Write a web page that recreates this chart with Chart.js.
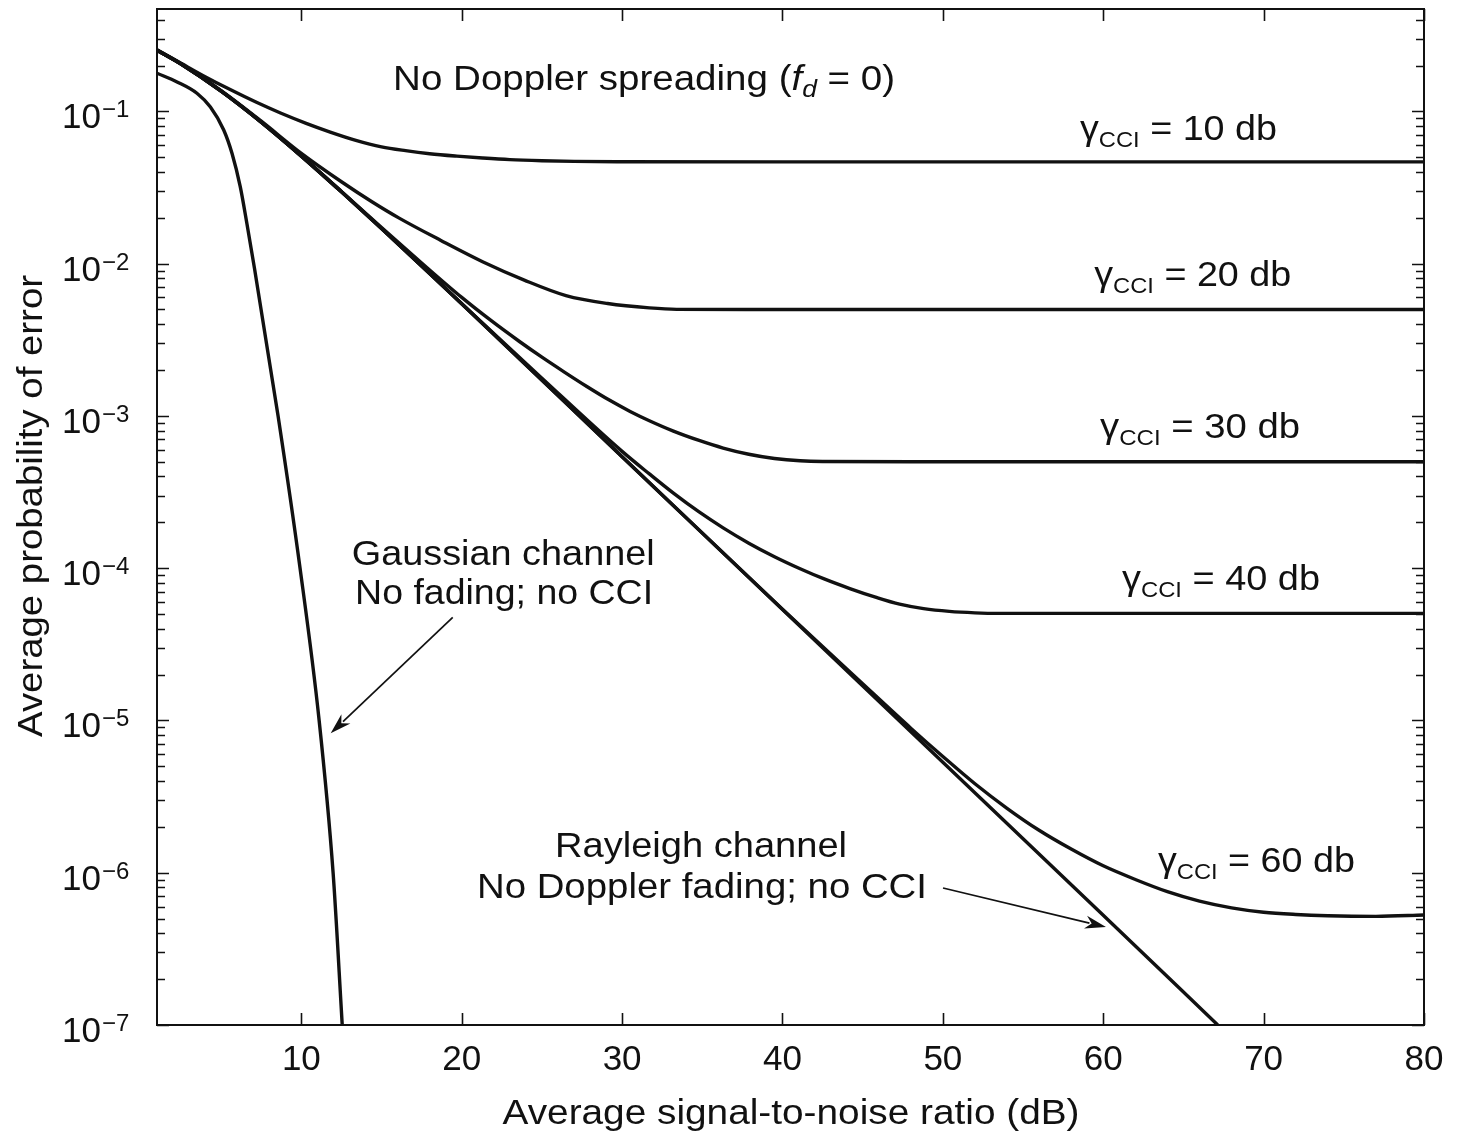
<!DOCTYPE html>
<html>
<head>
<meta charset="utf-8">
<title>Average probability of error vs. average SNR</title>
<script src="https://cdn.jsdelivr.net/npm/chart.js@4.4.1/dist/chart.umd.min.js"></script>
<style>
  html, body { margin: 0; padding: 0; background: #fff; }
  #wrap { width: 1466px; height: 1139px; }
</style>
</head>
<body>
<div id="wrap"><canvas id="chart" width="1466" height="1139"></canvas></div>
<script>
// ---- axis ticks ----
const xTickValues = [10, 20, 30, 40, 50, 60, 70, 80];
const yDecadeExponents = [-1, -2, -3, -4, -5, -6, -7];
const yMinorMultipliers = [1, 2, 3, 4, 5, 6, 7, 8, 9];

// ---- Gaussian channel, no fading, no CCI ----
const gaussSnr = [1, 2.25, 3.49, 4.33, 5.16, 5.68, 6.19, 6.61, 7.08, 8.55, 9.92, 11.11, 11.98, 12.55];
const gaussPe  = [0.178, 0.156, 0.1314, 0.1066, 0.0754, 0.0528, 0.032, 0.0182, 0.0093, 1.0e-3, 1.0e-4, 1.0e-5, 1.0e-6, 1.0e-7];

// ---- Rayleigh channel, no Doppler fading, no CCI ----
const raySnr = [1, 2.5, 5, 7.5, 10, 12.5, 15, 17.5, 20, 30, 40, 50, 60, 67.14];
const rayPe  = [0.252, 0.2045, 0.1357, 0.0849, 0.0508, 0.0296, 0.01699, 0.00965, 0.005445, 5.40e-4, 5.35e-5, 5.31e-6, 5.26e-7, 1.0e-7];

// ---- Rayleigh channel with co-channel interference (gamma_CCI) ----
const cci10Snr = [1, 2.5, 4, 5.5, 7.2, 8.7, 10.3, 11.8, 13.4, 15, 16.5, 18, 19.7, 21.3, 23, 25, 27, 30, 40, 80];
const cci10Pe  = [0.254, 0.207, 0.169, 0.140, 0.1146, 0.0975, 0.0834, 0.0731, 0.0645, 0.0585, 0.0552, 0.0527, 0.0508, 0.0494, 0.0482, 0.0474, 0.0469, 0.0467, 0.0466, 0.0466];

const cci20Snr = [1, 2.5, 5, 7.5, 10, 12.5, 14.4, 16.1, 18.7, 21.3, 23.9, 26.5, 29.1, 31.7, 33.4, 40, 80];
const cci20Pe  = [0.253, 0.2055, 0.1368, 0.0862, 0.053, 0.0345, 0.0255, 0.0199, 0.0142, 0.0103, 0.0078, 0.00617, 0.00547, 0.00512, 0.00501, 0.005, 0.005];

const cci30Snr = [1, 2.5, 5, 7.5, 10, 12.5, 15, 17.5, 20, 21.8, 23.6, 25, 26.4, 27.8, 29.2, 30.5, 31.7, 33.2, 34.8, 36.3, 37.9, 39.5, 41.1, 42.5, 50, 80];
const cci30Pe  = [0.252, 0.2045, 0.1357, 0.0849, 0.0509, 0.0298, 0.01725, 0.0101, 0.0060, 0.00425, 0.00308, 0.00243, 0.00194, 0.00156, 0.00127, 0.00107, 9.3e-4, 7.95e-4, 6.9e-4, 6.15e-4, 5.6e-4, 5.25e-4, 5.07e-4, 5.02e-4, 5.0e-4, 5.0e-4];

const cci40Snr = [1, 2.5, 5, 7.5, 10, 12.5, 15, 17.5, 20, 25, 30, 31.7, 33.2, 34.8, 36.3, 37.9, 39.5, 41.1, 42.6, 44.2, 45.8, 47.3, 48.8, 50.4, 52, 53.5, 60, 80];
const cci40Pe  = [0.252, 0.2045, 0.1357, 0.0849, 0.0508, 0.0296, 0.01699, 0.00966, 0.00546, 1.77e-3, 5.85e-4, 4.16e-4, 3.11e-4, 2.34e-4, 1.84e-4, 1.46e-4, 1.19e-4, 9.92e-5, 8.5e-5, 7.35e-5, 6.45e-5, 5.8e-5, 5.42e-5, 5.2e-5, 5.09e-5, 5.05e-5, 5.05e-5, 5.05e-5];

const cci60Snr = [1, 2.5, 5, 7.5, 10, 12.5, 15, 17.5, 20, 30, 40, 45, 48, 50, 52, 54, 56, 58, 60, 62, 64, 66, 68, 70, 72, 74, 77, 80];
const cci60Pe  = [0.252, 0.2045, 0.1357, 0.0849, 0.0508, 0.0296, 0.01699, 0.00965, 0.005445, 5.40e-4, 5.37e-5, 1.74e-5, 8.9e-6, 5.8e-6, 3.84e-6, 2.65e-6, 1.90e-6, 1.43e-6, 1.11e-6, 9.03e-7, 7.51e-7, 6.51e-7, 5.88e-7, 5.5e-7, 5.32e-7, 5.22e-7, 5.17e-7, 5.28e-7];

const FONT = '"Liberation Sans", Arial, Helvetica, sans-serif';
const INK = '#111';

function pairs(xs, ys) { return xs.map((x, i) => ({ x: x, y: ys[i] })); }
function curve(label, xs, ys) {
  return {
    label: label,
    data: pairs(xs, ys),
    borderColor: INK,
    borderWidth: 3.4,
    pointRadius: 0,
    fill: false,
    cubicInterpolationMode: 'monotone'
  };
}

// text runs: plain / italic / raised / lowered pieces laid out left to right,
// stretched horizontally to a set width
function fontStr(size, italic) { return (italic ? 'italic ' : '') + size + 'px ' + FONT; }
function drawRuns(ctx, runs, x, y, width) {
  let natural = 0;
  runs.forEach(r => { ctx.font = fontStr(r.s, r.it); r.w = ctx.measureText(r.t).width; natural += r.w; });
  const k = width ? width / natural : 1;
  ctx.save();
  ctx.translate(x, y);
  ctx.scale(k, 1);
  ctx.textAlign = 'left';
  ctx.textBaseline = 'alphabetic';
  let cx = 0;
  runs.forEach(r => { ctx.font = fontStr(r.s, r.it); ctx.fillText(r.t, cx, r.dy || 0); cx += r.w; });
  ctx.restore();
}

function gammaLabel(level) {
  return [{ t: '\u03B3', s: 35 }, { t: 'CCI', s: 22, dy: 7 }, { t: ' = ' + level + ' db', s: 35 }];
}

// annotation anchors in data units (dB, probability): left edge / baseline
const notes = [
  { x: 15.72, y: 0.138, w: 502, runs: [{ t: 'No Doppler spreading (', s: 35 }, { t: 'f', s: 35, it: true }, { t: 'd', s: 24, it: true, dy: 7 }, { t: ' = 0)', s: 35 }] },
  { x: 58.55, y: 0.0648, w: 197, runs: gammaLabel('10') },
  { x: 59.44, y: 0.00713, w: 197, runs: gammaLabel('20') },
  { x: 59.8, y: 7.16e-4, w: 200, runs: gammaLabel('30') },
  { x: 61.17, y: 7.19e-5, w: 198, runs: gammaLabel('40') },
  { x: 63.41, y: 1.01e-6, w: 197, runs: gammaLabel('60') },
  { x: 13.14, y: 1.05e-4, w: 303, runs: [{ t: 'Gaussian channel', s: 35 }] },
  { x: 13.35, y: 5.8e-5, w: 298, runs: [{ t: 'No fading; no CCI', s: 35 }] },
  { x: 25.82, y: 1.27e-6, w: 292, runs: [{ t: 'Rayleigh channel', s: 35 }] },
  { x: 20.95, y: 6.83e-7, w: 450, runs: [{ t: 'No Doppler fading; no CCI', s: 35 }] }
];
const arrows = [
  { from: [19.44, 4.76e-5], to: [11.83, 8.23e-6] },
  { from: [50.01, 7.94e-7], to: [60.17, 4.4e-7] }
];

const decor = {
  id: 'decor',
  beforeDraw(chart) {
    const ctx = chart.ctx;
    ctx.save();
    ctx.fillStyle = '#fff';
    ctx.fillRect(0, 0, chart.width, chart.height);
    ctx.restore();
  },
  afterDraw(chart) {
    const ctx = chart.ctx;
    const xs = chart.scales.x, ys = chart.scales.y;
    const a = chart.chartArea;
    ctx.save();
    ctx.strokeStyle = INK;
    ctx.fillStyle = INK;

    // frame
    ctx.lineWidth = 2;
    ctx.strokeRect(a.left, a.top, a.right - a.left, a.bottom - a.top);

    // x ticks (bottom and top, pointing inward)
    ctx.lineWidth = 1.6;
    ctx.beginPath();
    xTickValues.forEach(v => {
      const px = Math.round(xs.getPixelForValue(v)) + 0.5;
      ctx.moveTo(px, a.bottom); ctx.lineTo(px, a.bottom - 12);
      ctx.moveTo(px, a.top); ctx.lineTo(px, a.top + 12);
    });
    // y ticks (left and right, pointing inward)
    const yMax = ys.max, yMin = ys.min;
    for (let e = -7; e <= 0; e++) {
      yMinorMultipliers.forEach(m => {
        const v = m * Math.pow(10, e);
        if (v < yMin * 0.999 || v > yMax) return;
        const py = Math.round(ys.getPixelForValue(v)) + 0.5;
        const len = m === 1 ? 12 : 8;
        ctx.moveTo(a.left, py); ctx.lineTo(a.left + len, py);
        ctx.moveTo(a.right, py); ctx.lineTo(a.right - len, py);
      });
    }
    ctx.stroke();

    // y tick labels 10^e
    yDecadeExponents.forEach(e => {
      const py = ys.getPixelForValue(Math.pow(10, e));
      ctx.font = fontStr(35, false);
      ctx.textAlign = 'right';
      ctx.textBaseline = 'alphabetic';
      ctx.fillText('10', 101, py + 17);
      ctx.font = fontStr(24, false);
      ctx.textAlign = 'left';
      ctx.fillText('\u2212' + Math.abs(e), 102, py + 6);
    });

    // axis titles
    const midX = (a.left + a.right) / 2;
    ctx.save();
    ctx.translate(midX - 288, a.bottom + 99);
    drawRuns(ctx, [{ t: 'Average signal-to-noise ratio (dB)', s: 35 }], 0, 0, 577);
    ctx.restore();
    ctx.save();
    ctx.translate(42, (a.top + a.bottom) / 2 + 220);
    ctx.rotate(-Math.PI / 2);
    drawRuns(ctx, [{ t: 'Average probability of error', s: 35 }], 0, 0, 462);
    ctx.restore();

    // annotations
    notes.forEach(n => {
      drawRuns(ctx, n.runs, xs.getPixelForValue(n.x), ys.getPixelForValue(n.y), n.w);
    });

    // arrows
    arrows.forEach(ar => {
      const x0 = xs.getPixelForValue(ar.from[0]), y0 = ys.getPixelForValue(ar.from[1]);
      const x1 = xs.getPixelForValue(ar.to[0]), y1 = ys.getPixelForValue(ar.to[1]);
      const ang = Math.atan2(y1 - y0, x1 - x0);
      const head = 21, half = 6.5;
      const bx = x1 - head * Math.cos(ang), by = y1 - head * Math.sin(ang);
      ctx.lineWidth = 1.7;
      ctx.beginPath();
      ctx.moveTo(x0, y0); ctx.lineTo(bx + 4 * Math.cos(ang), by + 4 * Math.sin(ang));
      ctx.stroke();
      ctx.beginPath();
      ctx.moveTo(x1, y1);
      ctx.lineTo(bx + half * Math.sin(ang), by - half * Math.cos(ang));
      ctx.lineTo(bx + 0.3 * head * Math.cos(ang), by + 0.3 * head * Math.sin(ang));
      ctx.lineTo(bx - half * Math.sin(ang), by + half * Math.cos(ang));
      ctx.closePath();
      ctx.fill();
    });
    ctx.restore();
  }
};

new Chart(document.getElementById('chart'), {
  type: 'line',
  data: {
    datasets: [
      curve('Gaussian channel', gaussSnr, gaussPe),
      curve('Rayleigh channel', raySnr, rayPe),
      curve('\u03B3CCI = 10 db', cci10Snr, cci10Pe),
      curve('\u03B3CCI = 20 db', cci20Snr, cci20Pe),
      curve('\u03B3CCI = 30 db', cci30Snr, cci30Pe),
      curve('\u03B3CCI = 40 db', cci40Snr, cci40Pe),
      curve('\u03B3CCI = 60 db', cci60Snr, cci60Pe)
    ]
  },
  options: {
    responsive: false,
    animation: false,
    devicePixelRatio: 1,
    layout: { padding: { top: 9, right: 42, left: 0, bottom: 0 } },
    plugins: { legend: { display: false }, tooltip: { enabled: false } },
    scales: {
      x: {
        type: 'linear', min: 1, max: 80,
        afterBuildTicks: s => { s.ticks = xTickValues.map(v => ({ value: v })); },
        afterFit: s => { s.height = 114; },
        grid: { display: false, drawTicks: false },
        border: { display: false },
        ticks: {
          color: INK, padding: 14, maxRotation: 0, autoSkip: false,
          font: { family: FONT, size: 35 },
          callback: v => String(v)
        }
      },
      y: {
        type: 'logarithmic', min: 1e-7, max: 0.47,
        afterFit: s => { s.width = 157; },
        grid: { display: false, drawTicks: false },
        border: { display: false },
        ticks: { display: false }
      }
    }
  },
  plugins: [decor]
});
</script>
</body>
</html>
